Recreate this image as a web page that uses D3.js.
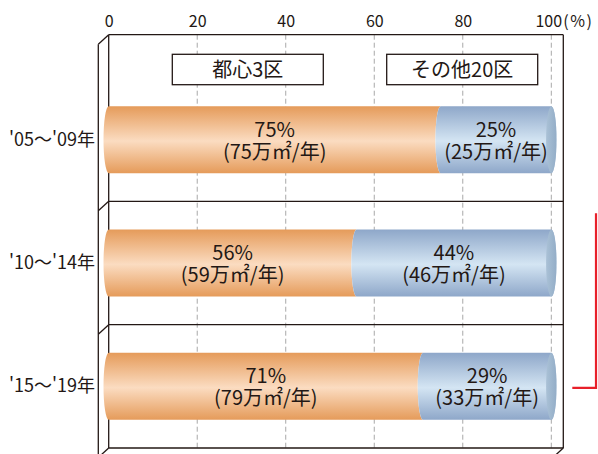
<!DOCTYPE html>
<html lang="ja">
<head>
<meta charset="utf-8">
<script src="https://cdn.jsdelivr.net/npm/d3@7"></script>
<style>
  html, body { margin: 0; padding: 0; background: #fff; }
  svg { display: block; font-family: "Noto Sans CJK JP", "Noto Sans", sans-serif; }
  text { fill: #231815; }
</style>
</head>
<body>
<svg id="chart" width="598" height="454"></svg>
<script>
// Share of annual office floor supply: central 3 wards vs the other 20 wards
const categories = ["'05～'09年", "'10～'14年", "'15～'19年"];
const coreShare = [75, 56, 71];      // 都心3区 (%)
const otherShare = [25, 44, 29];     // その他20区 (%)
const coreArea = [75, 59, 79];       // 万㎡/年
const otherArea = [25, 46, 33];      // 万㎡/年
const seriesNames = ["都心3区", "その他20区"];
const xTicks = [0, 20, 40, 60, 80, 100];
const unitLabel = "(%)";

const svg = d3.select("#chart");
const W = 598, H = 454;

const x = d3.scaleLinear().domain([0, 100]).range([108.7, 551.3]);
const y = d3.scaleBand().domain(categories).range([78, 448]);

const wallTop = 34.7;
const wallRight = 563.3;
const wallLeft = x(0);
const wallBottom = y.range()[1];
const depth = { dx: -10.4, dy: 9.5 };
const ink = "#231815";

// ---- gradients for the cylinder bodies ----
const defs = svg.append("defs");
function vGrad(id, edge, mid) {
  const g = defs.append("linearGradient").attr("id", id)
    .attr("x1", 0).attr("y1", 0).attr("x2", 0).attr("y2", 1);
  g.append("stop").attr("offset", "0%").attr("stop-color", edge);
  g.append("stop").attr("offset", "52%").attr("stop-color", mid);
  g.append("stop").attr("offset", "100%").attr("stop-color", edge);
}
vGrad("gCore", "#e59b5a", "#fbdcc1");
vGrad("gOther", "#8ea7c9", "#d4e5f3");
const cap = defs.append("linearGradient").attr("id", "gCap")
  .attr("x1", 0).attr("y1", 0).attr("x2", 1).attr("y2", 0);
cap.append("stop").attr("offset", "0%").attr("stop-color", "#aac1d6");
cap.append("stop").attr("offset", "100%").attr("stop-color", "#93adc7");

// ---- dashed value gridlines ----
svg.append("g")
  .selectAll("line")
  .data(xTicks.filter(d => d > 0))
  .join("line")
  .attr("x1", d => x(d)).attr("x2", d => x(d))
  .attr("y1", wallTop).attr("y2", wallBottom)
  .attr("stroke", "#a8a8a8").attr("stroke-width", 1)
  .attr("stroke-dasharray", "5,3");

// ---- 3D frame: back wall, left side wall and row dividers ----
const frame = svg.append("g").attr("fill", "none").attr("stroke", ink).attr("stroke-width", 1.3);
const rowEdges = [wallTop].concat(categories.slice(1).map(c => y(c))).concat([wallBottom]);
frame.selectAll("line.row")
  .data(rowEdges)
  .join("line")
  .attr("class", "row")
  .attr("x1", wallLeft).attr("x2", wallRight)
  .attr("y1", d => d).attr("y2", d => d);
frame.selectAll("line.diag")
  .data(rowEdges)
  .join("line")
  .attr("class", "diag")
  .attr("x1", wallLeft).attr("y1", d => d)
  .attr("x2", wallLeft + depth.dx).attr("y2", d => d + depth.dy);
frame.append("line")
  .attr("x1", wallLeft).attr("x2", wallLeft)
  .attr("y1", wallTop).attr("y2", wallBottom);
frame.append("line")
  .attr("x1", wallLeft + depth.dx).attr("x2", wallLeft + depth.dx)
  .attr("y1", wallTop + depth.dy).attr("y2", H + 2);
frame.append("line")
  .attr("x1", wallRight).attr("x2", wallRight)
  .attr("y1", wallTop).attr("y2", wallBottom);
frame.append("line")
  .attr("x1", wallRight).attr("y1", wallBottom)
  .attr("x2", wallRight + depth.dx).attr("y2", wallBottom + depth.dy);

// ---- top axis ----
const axis = svg.append("g")
  .attr("transform", `translate(0, ${26.5})`)
  .call(d3.axisTop(x).tickValues(xTicks).tickSize(0).tickPadding(0));
axis.attr("font-size", null).attr("font-family", null);
axis.select(".domain").remove();
axis.selectAll("text")
  .style("font-size", "16px")
  .attr("fill", ink)
  .attr("dy", 0)
  .attr("dx", d => d === 100 ? -3 : 0);
svg.append("text")
  .attr("x", x(100) + 12).attr("y", 26.5)
  .style("font-size", "16px")
  .style("letter-spacing", "1.5px")
  .text(unitLabel);

// ---- legend boxes ----
const legendPos = [[172.3, 323.3], [386.7, 537.7]];
const legend = svg.append("g").selectAll("g")
  .data(seriesNames)
  .join("g");
legend.append("rect")
  .attr("x", (d, i) => legendPos[i][0])
  .attr("y", 54.3)
  .attr("width", (d, i) => legendPos[i][1] - legendPos[i][0])
  .attr("height", 30.4)
  .attr("fill", "#fff").attr("stroke", ink).attr("stroke-width", 1.3);
legend.append("text")
  .attr("x", (d, i) => (legendPos[i][0] + legendPos[i][1]) / 2)
  .attr("y", 76.5)
  .attr("text-anchor", "middle")
  .style("font-size", "20px")
  .text(d => d);

// ---- cylinders ----
const barH = 67, ry = barH / 2, rx = 5.2;
function bodyPath(x0, x1, cy, rightRound) {
  const t = cy - ry, b = cy + ry;
  return `M${x0},${t} L${x1},${t} ` +
    (rightRound ? `A${rx},${ry} 0 0 1 ${x1},${b} ` : `A${rx},${ry} 0 0 0 ${x1},${b} `) +
    `L${x0},${b} A${rx},${ry} 0 0 1 ${x0},${t} Z`;
}
const rows = categories.map((c, i) => ({
  cat: c, core: coreShare[i], other: otherShare[i],
  coreArea: coreArea[i], otherArea: otherArea[i]
}));
const cy = d => y(d.cat) + y.bandwidth() / 2;
const bars = svg.append("g").selectAll("g")
  .data(rows)
  .join("g");
bars.append("path")
  .attr("d", d => bodyPath(x(0), x(d.core), cy(d), false))
  .attr("fill", "url(#gCore)");
bars.append("path")
  .attr("d", d => bodyPath(x(d.core), x(d.core + d.other), cy(d), true))
  .attr("fill", "url(#gOther)");
bars.append("ellipse")
  .attr("cx", d => x(d.core + d.other))
  .attr("cy", cy)
  .attr("rx", rx).attr("ry", ry)
  .attr("fill", "url(#gCap)");

// value labels inside each segment: percentage, then annual floor area
function segLabel(sel, from, to, pct, area) {
  const mid = d => x((from(d) + to(d)) / 2);
  sel.append("text")
    .attr("text-anchor", "middle")
    .style("font-size", "20px")
    .attr("x", mid)
    .attr("y", d => cy(d) - 3)
    .text(d => `${pct(d)}%`);
  sel.append("text")
    .attr("text-anchor", "middle")
    .style("font-size", "20px")
    .attr("x", mid)
    .attr("y", d => cy(d) + 19)
    .text(d => `(${area(d)}万㎡/年)`);
}
segLabel(bars, d => 0, d => d.core, d => d.core, d => d.coreArea);
segLabel(bars, d => d.core, d => d.core + d.other, d => d.other, d => d.otherArea);

// category labels
svg.append("g").selectAll("text")
  .data(categories)
  .join("text")
  .attr("x", 95)
  .attr("y", d => y(d) + y.bandwidth() / 2 + 6)
  .attr("text-anchor", "end")
  .style("font-size", "18px")
  .text(d => d);

// bracket marking the two later periods
const bTop = y(categories[1]) + 12;
const bBot = y(categories[2]) + y.bandwidth() / 2 + 1.5;
svg.append("path")
  .attr("d", `M596,${bTop} L596,${bBot} L572.3,${bBot}`)
  .attr("fill", "none")
  .attr("stroke", "#e8202a")
  .attr("stroke-width", 2.2);
</script>
</body>
</html>
